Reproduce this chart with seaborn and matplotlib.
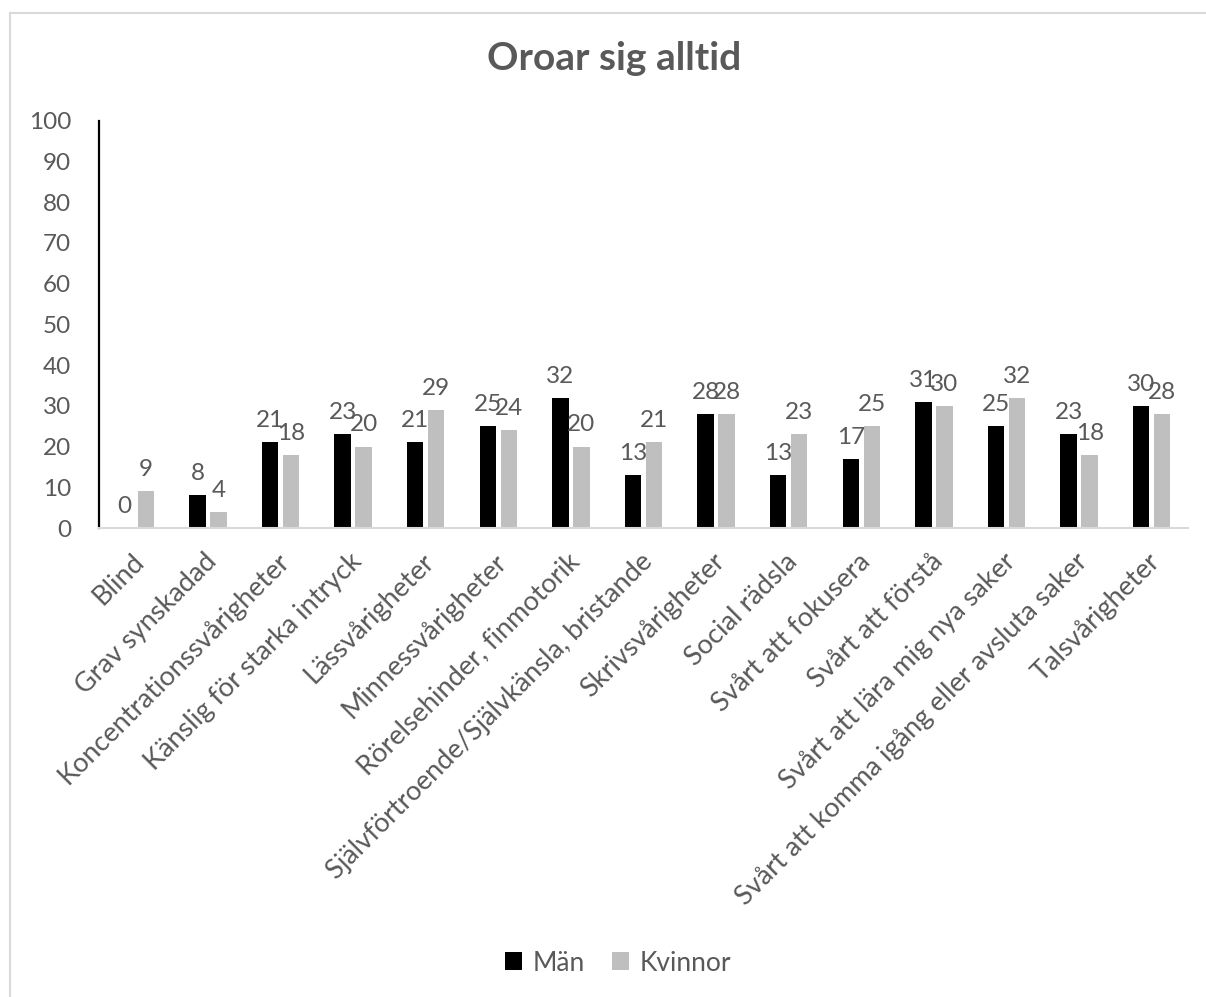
import numpy as np
import pandas as pd
import seaborn as sns
import matplotlib.pyplot as plt
import matplotlib.transforms as mtransforms
from matplotlib.lines import Line2D

categories = [
    "Blind",
    "Grav synskadad",
    "Koncentrationssvårigheter",
    "Känslig för starka intryck",
    "Lässvårigheter",
    "Minnessvårigheter",
    "Rörelsehinder, finmotorik",
    "Självförtroende/Självkänsla, bristande",
    "Skrivsvårigheter",
    "Social rädsla",
    "Svårt att fokusera",
    "Svårt att förstå",
    "Svårt att lära mig nya saker",
    "Svårt att komma igång eller avsluta saker",
    "Talsvårigheter",
]
man = [0, 8, 21, 23, 21, 25, 32, 13, 28, 13, 17, 31, 25, 23, 30]
kvinnor = [9, 4, 18, 20, 29, 24, 20, 21, 28, 23, 25, 30, 32, 18, 28]
series = ["Män", "Kvinnor"]
colors = ["#000000", "#BFBFBF"]

df = pd.DataFrame({
    "Kategori": categories * 2,
    "Värde": man + kvinnor,
    "Grupp": [series[0]] * len(categories) + [series[1]] * len(categories),
})

sns.set_style("white")
plt.rcParams["font.family"] = ["Lato", "DejaVu Sans"]
text_color = "#595959"

fig = plt.figure(figsize=(12.06, 9.97), dpi=100)
ax = fig.add_axes([0.0821, 0.4704, 0.9030, 0.4085])

sns.barplot(data=df, x="Kategori", y="Värde", hue="Grupp", palette=colors,
            width=0.58, gap=0.22, linewidth=0, ax=ax)

# data labels above each bar
for cont in ax.containers:
    ax.bar_label(cont, fmt="%g", padding=8, fontsize=17.5, color=text_color)

ax.set_ylim(0, 100)
ax.set_yticks(range(0, 101, 10))
ax.set_xlim(-0.5, len(categories) - 0.5)
ax.set_xlabel("")
ax.set_ylabel("")

for s in ["top", "right"]:
    ax.spines[s].set_visible(False)
ax.spines["left"].set_color("black")
ax.spines["left"].set_linewidth(1.6)
ax.spines["bottom"].set_color("#D9D9D9")
ax.spines["bottom"].set_linewidth(1.5)

ax.tick_params(axis="y", length=0, pad=20, labelsize=17.5, labelcolor=text_color)
ax.tick_params(axis="x", length=0, pad=15, labelsize=19.5, labelcolor=text_color)
shift = mtransforms.ScaledTranslation(-0.04, 0, fig.dpi_scale_trans)
for lbl in ax.get_xticklabels():
    lbl.set_rotation(45)
    lbl.set_ha("right")
    lbl.set_va("top")
    lbl.set_rotation_mode("anchor")
    lbl.set_transform(lbl.get_transform() + shift)

handles, labels = ax.get_legend_handles_labels()
ax.get_legend().remove()
fig.legend(handles, labels, loc="center", bbox_to_anchor=(618 / 1206, 1 - 963 / 997),
           ncol=2, frameon=False, fontsize=19, handlelength=0.65, handleheight=0.65,
           handletextpad=0.4, columnspacing=1.0, labelcolor=text_color)

fig.text(614 / 1206, 1 - 59 / 997, "Oroar sig alltid", ha="center", va="center",
         fontsize=28, fontweight="bold", color=text_color)

# chart border (left and top edges visible)
fig.add_artist(Line2D([10 / 1206, 10 / 1206], [0, 1 - 13 / 997], color="#D9D9D9",
                      linewidth=1.5, transform=fig.transFigure))
fig.add_artist(Line2D([10 / 1206, 1], [1 - 13 / 997, 1 - 13 / 997], color="#D9D9D9",
                      linewidth=1.5, transform=fig.transFigure))

plt.savefig("out.png", dpi=100)
